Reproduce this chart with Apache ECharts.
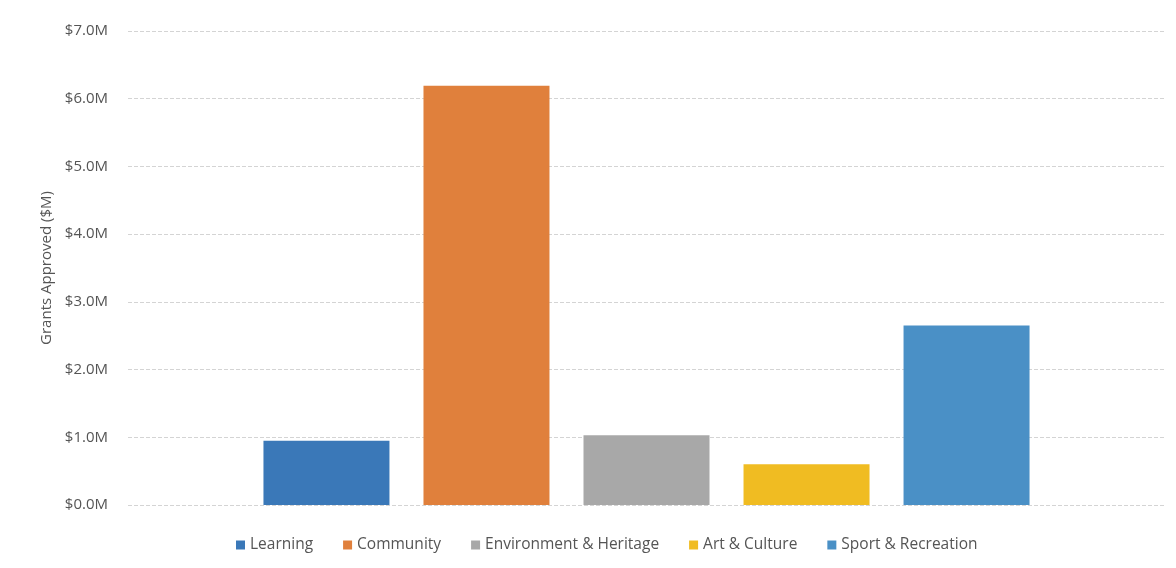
<!DOCTYPE html>
<html><head><meta charset="utf-8">
<script src="https://cdn.jsdelivr.net/npm/echarts@6/dist/echarts.min.js"></script>
<style>html,body{margin:0;padding:0;background:#fff}#c{width:1176px;height:568px}</style>
</head><body><div id="c"></div>
<script>
const seriesNames = ["Learning", "Community", "Environment & Heritage", "Art & Culture", "Sport & Recreation"];
const seriesValues = [0.95, 6.19, 1.03, 0.60, 2.65];
const seriesColors = ["#3a78b8", "#e0803c", "#a8a8a8", "#f0bc22", "#4a90c6"];
const yTicks = { min: 0, max: 7, interval: 1 };

const chart = echarts.init(document.getElementById('c'));
chart.setOption({
  animation: false,
  grid: { left: 128, right: 11, top: 31, bottom: 63 },
  legend: {
    bottom: 10, left: 231, itemWidth: 9, itemHeight: 9, itemGap: 30,
    icon: 'rect',
    textStyle: { color: '#555', fontSize: 15.5, fontFamily: 'Open Sans' },
    data: seriesNames
  },
  xAxis: {
    type: 'category', data: [''],
    axisLine: { show: false }, axisTick: { show: false }, axisLabel: { show: false }
  },
  yAxis: {
    type: 'value', min: yTicks.min, max: yTicks.max, interval: yTicks.interval,
    name: 'Grants Approved ($M)', nameLocation: 'middle', nameGap: 74, nameRotate: 90,
    nameTextStyle: { color: '#555', fontSize: 15, fontFamily: 'Open Sans' },
    axisLabel: { color: '#555', fontSize: 15, fontFamily: 'Open Sans', margin: 20,
      formatter: v => '$' + v.toFixed(1) + 'M' },
    splitLine: { lineStyle: { color: '#d4d4d4', type: 'dashed', width: 1 } },
    axisLine: { show: false }, axisTick: { show: false }
  },
  series: seriesNames.map((n, i) => ({
    name: n, type: 'bar', data: [seriesValues[i]],
    barWidth: 126, barGap: '27%',
    itemStyle: { color: seriesColors[i] }
  }))
});
</script></body></html>
